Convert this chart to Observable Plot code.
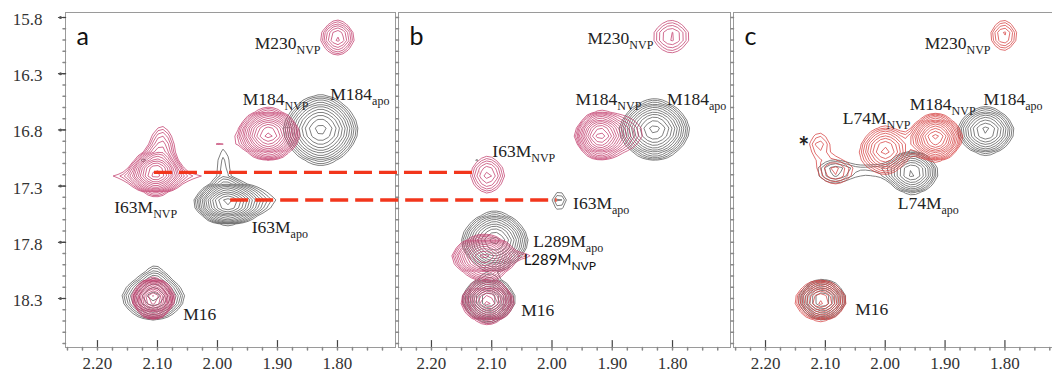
<!DOCTYPE html>
<html><head><meta charset="utf-8">
<script src="https://cdn.jsdelivr.net/npm/d3@7"></script>
<script src="https://cdn.jsdelivr.net/npm/@observablehq/plot@0.6"></script>
<style>
html,body{margin:0;padding:0;background:#fff;overflow:hidden;}
#fig{position:relative;width:1052px;height:376px;overflow:hidden;background:#fff;}
#fig svg{position:absolute;top:0;}
</style></head><body><div id="fig"></div>
<script>
// ---------- data ----------
const xTicks = [2.2, 2.1, 2.0, 1.9, 1.8];
const xTickLabels = ["2.20", "2.10", "2.00", "1.90", "1.80"];
const yTicks = [15.8, 16.3, 16.8, 17.3, 17.8, 18.3];
const yTickLabels = ["15.8", "16.3", "16.8", "17.3", "17.8", "18.3"];
// contour levels (geometric, factor 1.25)
const levels = [1, 1.25, 1.56, 1.95, 2.44, 3.05, 3.81, 4.77, 5.96, 7.45, 9.31, 11.64, 14.55, 18.19, 22.74, 28.42];

// peaks: [1H ppm, 13C ppm, half-width 1H, half-width 13C, number of contour levels]
const peaksA_NVP = [
  [1.800, 15.98, 0.028, 0.15, 7],
  [1.915, 16.84, 0.052, 0.23, 14],
  [2.103, 17.18, 0.044, 0.20, 14],
  [2.100, 17.22, 0.075, 0.05, 3],
  [2.093, 16.95, 0.020, 0.18, 5],
  [1.998, 16.91, 0.010, 0.02, 1],
  [2.107, 18.30, 0.036, 0.18, 14]
];
const peaksA_apo = [
  [1.828, 16.80, 0.062, 0.31, 12],
  [1.983, 17.45, 0.055, 0.19, 14],
  [1.945, 17.43, 0.040, 0.09, 3],
  [1.990, 17.12, 0.010, 0.15, 2],
  [2.123, 17.09, 0.008, 0.03, 2],
  [2.107, 18.29, 0.052, 0.20, 10],
  [2.104, 18.12, 0.010, 0.08, 2]
];
const peaksB_NVP = [
  [1.802, 15.97, 0.030, 0.14, 5],
  [1.920, 16.85, 0.042, 0.21, 13],
  [1.878, 16.83, 0.028, 0.13, 3],
  [2.107, 17.20, 0.028, 0.16, 6],
  [2.112, 17.93, 0.054, 0.19, 13],
  [2.045, 17.93, 0.012, 0.012, 2],
  [2.107, 18.33, 0.044, 0.19, 13]
];
const peaksB_apo = [
  [1.830, 16.80, 0.058, 0.27, 12],
  [1.988, 17.43, 0.012, 0.08, 3],
  [2.124, 17.09, 0.008, 0.025, 2],
  [2.095, 17.79, 0.055, 0.26, 12],
  [2.105, 18.31, 0.044, 0.20, 12]
];
const peaksC_NVP = [
  [1.802, 15.96, 0.022, 0.13, 5],
  [1.916, 16.87, 0.045, 0.21, 13],
  [2.000, 16.98, 0.042, 0.21, 9],
  [2.110, 16.93, 0.016, 0.10, 3],
  [2.083, 17.17, 0.028, 0.11, 4],
  [2.108, 18.32, 0.043, 0.18, 10]
];
const peaksC_apo = [
  [1.832, 16.81, 0.047, 0.21, 10],
  [1.955, 17.18, 0.043, 0.19, 10],
  [2.085, 17.17, 0.028, 0.10, 4],
  [2.020, 17.16, 0.025, 0.04, 2],
  [2.105, 18.31, 0.040, 0.18, 10]
];

// peak labels: [1H ppm, 13C ppm (baseline), text]  ("_" marks the subscript)
const labelsA = [
  [1.938, 16.08, "M230_NVP"], [1.958, 16.58, "M184_NVP"], [1.812, 16.53, "M184_apo"],
  [2.172, 17.535, "I63M_NVP"], [1.943, 17.72, "I63M_apo"], [2.057, 18.49, "M16"]
];
const labelsB = [
  [1.941, 16.04, "M230_NVP"], [1.961, 16.58, "M184_NVP"], [1.809, 16.58, "M184_apo"],
  [2.099, 17.04, "I63M_NVP"], [1.965, 17.50, "I63M_apo"], [2.031, 17.84, "L289M_apo"],
  [2.051, 18.46, "M16"]
];
const labelsB_sans = [[2.047, 18.006, "L289M_NVP"]];
const labelsC = [
  [1.934, 16.08, "M230_NVP"], [2.071, 16.75, "L74M_NVP"], [1.959, 16.62, "M184_NVP"],
  [1.836, 16.58, "M184_apo"], [1.979, 17.50, "L74M_apo"], [2.050, 18.45, "M16"]
];
const starC = [[2.136, 16.96, "*"]];
// red dashed guides: [1H in panel a, 1H in panel b, 13C]
const dashLines = [[2.105, 2.120, 17.182], [1.978, 1.9915, 17.428]];

// ---------- style ----------
const SERIF = "'Liberation Serif', 'DejaVu Serif', serif";
const SANS = "Lato, 'Open Sans', 'Liberation Sans', sans-serif";
const APO = "#555555";
const NVP_AB = "#c23c6c";
const NVP_C = "#d64040";
const Y_DOMAIN = [15.7555, 18.736];
const GRID_W = 66, GRID_H = 42;
const SHAPE_P = 1.75;

function intensity(peaks) {
  const P = peaks.map(([cx, cy, hx, hy, n]) => {
    const A = levels[n - 1] * 1.12;
    const k = Math.pow(Math.log(A), 1 / SHAPE_P);
    return {cx, cy, sx: hx / k, sy: hy / k, A};
  });
  return (x, y) => {
    let v = 0;
    for (const p of P) {
      const u = Math.abs((x - p.cx) / p.sx), w = Math.abs((y - p.cy) / p.sy);
      v += p.A * Math.exp(-(Math.pow(u, SHAPE_P) + Math.pow(w, SHAPE_P)));
    }
    return v;
  };
}
const tickShape = {draw(ctx, l) { ctx.moveTo(0, 0); ctx.lineTo(0, -l); }};

function makePanel({width, marginLeft, xDomain, nvp, apo, nvpColor, labels, sansLabels = [], extraText = [], letter, yAxis}) {
  const lo = Math.min(...xDomain), hi = Math.max(...xDomain);
  const xMinor = d3.range(1.7, 2.26, 0.025).filter(v => v > lo + 0.003 && v < hi - 0.003);
  const yMinor = d3.range(15.8, 18.75, 0.1);
  const contour = (peaks, color) => Plot.contour({
    x1: xDomain[0], x2: xDomain[1], y1: Y_DOMAIN[0], y2: Y_DOMAIN[1],
    value: intensity(peaks), thresholds: levels, width: GRID_W, height: GRID_H,
    stroke: color, fill: "none", strokeWidth: 0.75
  });
  const marks = [
    contour(apo, APO),
    contour(nvp, nvpColor),
    Plot.frame({stroke: "#9a9a9a", strokeWidth: 1}),
    Plot.vector(xTicks, {x: d => d, frameAnchor: "bottom", length: 7, rotate: 0, anchor: "start", shape: tickShape, stroke: "#444", strokeWidth: 1.2}),
    Plot.vector(xMinor, {x: d => d, frameAnchor: "bottom", length: 2.5, rotate: 180, anchor: "start", shape: tickShape, stroke: "#888"}),
    Plot.text(xTicks, {x: d => d, text: (d, i) => xTickLabels[i], frameAnchor: "bottom", dy: 21, fontFamily: SERIF, fontSize: 17, fill: "#333"}),
    Plot.vector(yMinor, {y: d => d, frameAnchor: "left", length: 2.5, rotate: -90, anchor: "start", shape: tickShape, stroke: "#888"}),
    Plot.text([letter], {text: d => d, frameAnchor: "top-left", dx: 11, dy: 32, textAnchor: "start", lineAnchor: "bottom", fontFamily: SANS, fontSize: 25, fill: "#111"}),
    Plot.text(labels, {x: d => d[0], y: d => d[1], text: d => d[2], textAnchor: "start", lineAnchor: "bottom", fontFamily: SERIF, fontSize: 17.5, fill: "#222"}),
    Plot.text(sansLabels, {x: d => d[0], y: d => d[1], text: d => d[2], textAnchor: "start", lineAnchor: "bottom", fontFamily: SANS, fontSize: 15, fill: "#111"}),
    Plot.text(extraText, {x: d => d[0], y: d => d[1], text: d => d[2], textAnchor: "middle", lineAnchor: "middle", fontFamily: SANS, fontSize: 26, fontWeight: "bold", fill: "#222"})
  ];
  if (yAxis) {
    marks.push(
      Plot.vector(yTicks, {y: d => d, frameAnchor: "left", length: 7, rotate: -90, anchor: "start", shape: tickShape, stroke: "#444", strokeWidth: 1.2}),
      Plot.dot(yTicks, {y: d => d, frameAnchor: "left", dx: -5, r: 1.5, fill: "#555"}),
      Plot.text(yTicks, {y: d => d, text: (d, i) => yTickLabels[i], frameAnchor: "left", dx: -23, dy: 2, textAnchor: "end", fontFamily: SERIF, fontSize: 17, fill: "#333"})
    );
  }
  const svg = Plot.plot({
    width, height: 376, marginLeft, marginRight: 0, marginTop: 12, marginBottom: 29,
    x: {domain: xDomain, axis: null}, y: {domain: Y_DOMAIN, reverse: true, axis: null},
    style: {background: "transparent", overflow: "visible", fontFamily: SERIF},
    marks
  });
  // subscripts
  d3.select(svg).selectAll("text").each(function () {
    const s = this.textContent, i = s.indexOf("_");
    if (i < 0) return;
    this.textContent = s.slice(0, i);
    d3.select(this).append("tspan").attr("dy", 5).attr("font-size", 12).text(s.slice(i + 1));
  });
  return svg;
}

const fig = document.getElementById("fig");
const lefts = [0, 397, 732];
const plotA = makePanel({width: 395, marginLeft: 65, xDomain: [2.2533, 1.7033], nvp: peaksA_NVP, apo: peaksA_apo, nvpColor: NVP_AB, labels: labelsA, letter: "a", yAxis: true});
const plotB = makePanel({width: 333, marginLeft: 1, xDomain: [2.2547, 1.7038], nvp: peaksB_NVP, apo: peaksB_apo, nvpColor: NVP_AB, labels: labelsB, sansLabels: labelsB_sans, letter: "b", yAxis: false});
const plotC = makePanel({width: 330, marginLeft: 1, xDomain: [2.2535, 1.7038], nvp: peaksC_NVP, apo: peaksC_apo, nvpColor: NVP_C, labels: labelsC, extraText: starC, letter: "c", yAxis: false});
[plotA, plotB, plotC].forEach((p, i) => { p.style.left = lefts[i] + "px"; fig.appendChild(p); });

// red dashed guides across panels a and b, positioned with the panels' own scales
const sxA = plotA.scale("x"), sxB = plotB.scale("x"), syA = plotA.scale("y");
const overlay = d3.create("svg").attr("width", 1052).attr("height", 376).style("left", "0px").style("pointer-events", "none");
for (const [xa, xb, y] of dashLines) {
  overlay.append("line")
    .attr("x1", lefts[0] + sxA.apply(xa)).attr("x2", lefts[1] + sxB.apply(xb))
    .attr("y1", syA.apply(y)).attr("y2", syA.apply(y))
    .attr("stroke", "#f2361c").attr("stroke-width", 3.3).attr("stroke-dasharray", "18,7");
}
fig.appendChild(overlay.node());
</script>
</body></html>
